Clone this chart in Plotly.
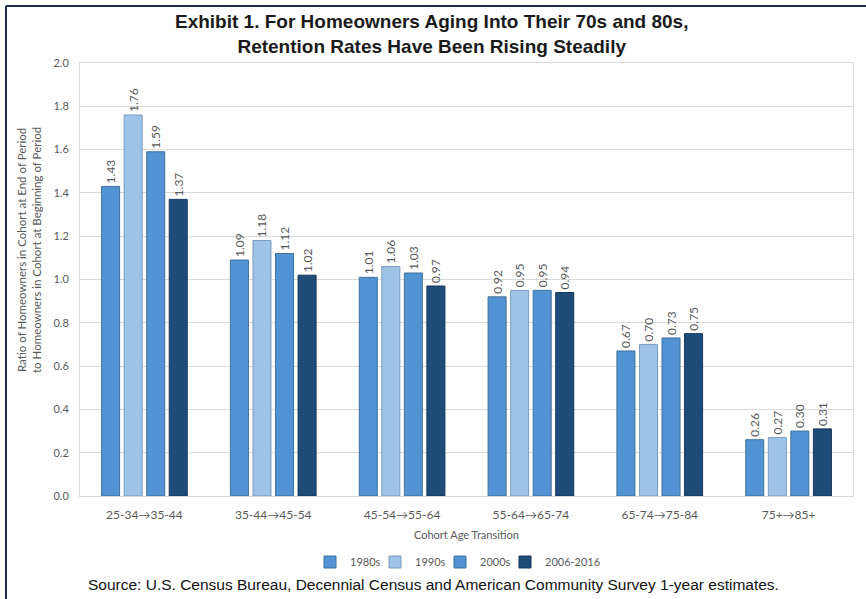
import plotly.graph_objects as go

categories = ["25-34→35-44", "35-44→45-54", "45-54→55-64", "55-64→65-74", "65-74→75-84", "75+→85+"]
series_names = ["1980s", "1990s", "2000s", "2006-2016"]
v1980s = [1.43, 1.09, 1.01, 0.92, 0.67, 0.26]
v1990s = [1.76, 1.18, 1.06, 0.95, 0.70, 0.27]
v2000s = [1.59, 1.12, 1.03, 0.95, 0.73, 0.30]
v2006 = [1.37, 1.02, 0.97, 0.94, 0.75, 0.31]
y_ticks = [0.0, 0.2, 0.4, 0.6, 0.8, 1.0, 1.2, 1.4, 1.6, 1.8, 2.0]

colors = ["#5193D3", "#9DC3E6", "#5193D3", "#1F4B78"]
lines = ["#41719C", "#7C9CBF", "#41719C", "#17375A"]
values = [v1980s, v1990s, v2000s, v2006]

W, H = 866, 599
ML, MR, MT, MB = 80, 13, 63, 103
PW, PH = W - ML - MR, H - MT - MB

def px(x):
    return (x - ML) / PW

def py(y):
    return (MT + PH - y) / PH

fig = go.Figure()
for name, vals, c, lc in zip(series_names, values, colors, lines):
    fig.add_trace(go.Bar(
        x=categories, y=vals, name=name,
        marker=dict(color=c, line=dict(color=lc, width=1)),
        text=[f"{v:.2f}" for v in vals], textposition="outside",
        textangle=-90, cliponaxis=False, constraintext="none",
        textfont=dict(family="Lato, Open Sans, sans-serif", size=12, color="#595959"),
    ))
# invisible spacer entry so the last legend label is not clipped
fig.add_trace(go.Scatter(x=[None], y=[None], mode="markers", name=" ",
                         marker=dict(color="rgba(0,0,0,0)"), hoverinfo="skip"))

font_axis = "Lato, Open Sans, sans-serif"
fig.update_layout(
    width=W, height=H,
    margin=dict(l=ML, r=MR, t=MT, b=MB),
    paper_bgcolor="white", plot_bgcolor="white",
    barmode="group", bargap=0.3, bargroupgap=0.2,
    showlegend=True,
    legend=dict(orientation="h", x=px(310), y=py(562), xanchor="left", yanchor="middle",
                bgcolor="rgba(0,0,0,0)",
                font=dict(family=font_axis, size=11, color="#595959"),
                itemwidth=30, entrywidth=20, tracegroupgap=0, traceorder="normal"),
    xaxis=dict(showgrid=False, showline=True, linecolor="#D9D9D9", mirror=True,
               tickfont=dict(family=font_axis, size=12, color="#595959"), ticks="",
               ticklabelstandoff=8),
    yaxis=dict(range=[0, 2.0], tickvals=y_ticks, ticktext=[f"{t:.1f}" for t in y_ticks],
               showgrid=True, gridcolor="#D9D9D9", gridwidth=1,
               showline=True, linecolor="#D9D9D9", mirror=True, zeroline=False,
               tickfont=dict(family=font_axis, size=11, color="#595959"), ticks="",
               ticklabelstandoff=8),
    annotations=[
        dict(text="<b>Exhibit 1. For Homeowners Aging Into Their 70s and 80s,<br>Retention Rates Have Been Rising Steadily</b>",
             xref="paper", yref="paper", x=px(431), y=py(34), xanchor="center", yanchor="middle",
             showarrow=False, font=dict(family="Liberation Sans, Arial, sans-serif", size=19, color="#1a1a1a")),
        dict(text="Ratio of Homeowners in Cohort at End of Period<br>to Homeowners in Cohort at Beginning of Period",
             xref="paper", yref="paper", x=px(29), y=py(250), xanchor="center", yanchor="middle",
             textangle=-90, showarrow=False,
             font=dict(family=font_axis, size=11.5, color="#595959")),
        dict(text="Cohort Age Transition", xref="paper", yref="paper", x=0.5, y=py(534),
             xanchor="center", yanchor="middle", showarrow=False,
             font=dict(family=font_axis, size=11, color="#595959")),
        dict(text="Source: U.S. Census Bureau, Decennial Census and American Community Survey 1-year estimates.",
             xref="paper", yref="paper", x=px(433), y=py(584), xanchor="center", yanchor="middle",
             showarrow=False, font=dict(family="Liberation Sans, Arial, sans-serif", size=15.5, color="#111111")),
    ],
    shapes=[
        dict(type="line", xref="paper", yref="paper", x0=px(6), x1=px(866), y0=py(6), y1=py(6),
             line=dict(color="#1F2A44", width=2)),
        dict(type="line", xref="paper", yref="paper", x0=px(6), x1=px(6), y0=py(6), y1=py(599),
             line=dict(color="#1F2A44", width=2)),
    ],
)

fig.write_html("out.html")
